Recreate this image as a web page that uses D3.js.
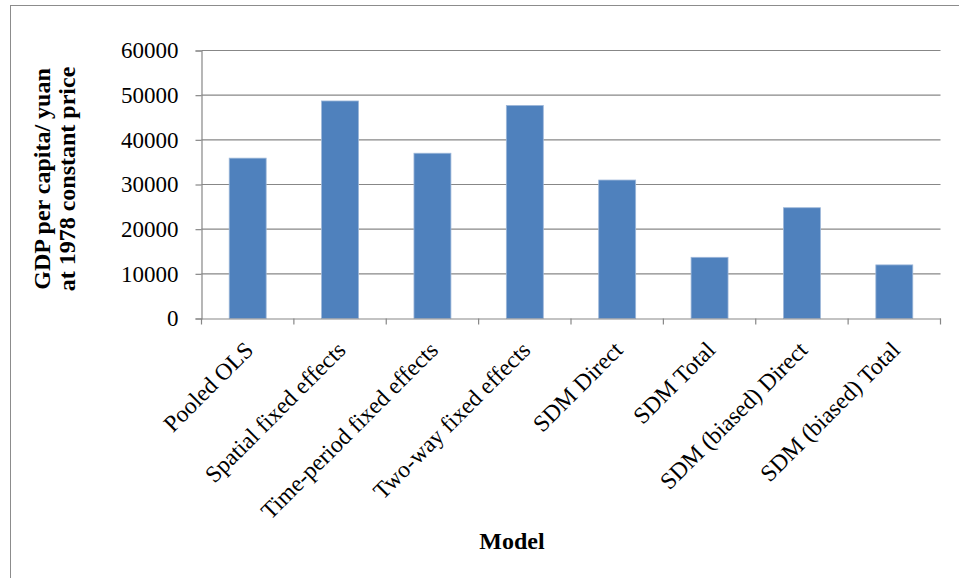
<!DOCTYPE html>
<html>
<head>
<meta charset="utf-8">
<script src="https://cdn.jsdelivr.net/npm/d3@7"></script>
<style>
  html, body { margin: 0; padding: 0; background: #fff; }
  svg { display: block; }
</style>
</head>
<body>
<svg id="chart" width="959" height="578"></svg>
<script>
const categories = ["Pooled OLS", "Spatial fixed effects", "Time-period fixed effects", "Two-way fixed effects", "SDM Direct", "SDM Total", "SDM (biased) Direct", "SDM (biased) Total"];
const values = [35900, 48700, 37000, 47700, 31000, 13700, 24800, 12000];
const yTicks = [0, 10000, 20000, 30000, 40000, 50000, 60000];
const yTitleLines = ["GDP per capita/ yuan", "at 1978 constant price"];
const xTitle = "Model";

(function () {
const svg = d3.select("#chart");
const font = "'Liberation Serif', 'Times New Roman', serif";
const gray = "#878787";

// outer chart border
svg.append("rect")
  .attr("x", 10.5).attr("y", 5.5)
  .attr("width", 980).attr("height", 620)
  .attr("fill", "none").attr("stroke", "#8c8c8c").attr("stroke-width", 1);

const pLeft = 201.5, pRight = 940.5, pTop = 50.5, pBottom = 318.5;

const x = d3.scaleBand().domain(categories).range([pLeft, pRight]).padding(0);
const y = d3.scaleLinear().domain([0, 60000]).range([pBottom, pTop]);

// gridlines
svg.append("g").selectAll("line").data(yTicks.filter(t => t > 0)).join("line")
  .attr("x1", pLeft).attr("x2", pRight)
  .attr("y1", d => y(d)).attr("y2", d => y(d))
  .attr("stroke", gray).attr("stroke-width", 1.2);

// bars
const step = x.step();
svg.append("g").selectAll("rect").data(categories).join("rect")
  .attr("x", (d) => x(d) + step * 0.3)
  .attr("width", step * 0.4)
  .attr("y", (d, i) => y(values[i]))
  .attr("height", (d, i) => y(0) - y(values[i]))
  .attr("fill", "#4F81BD")
  .attr("stroke", "#9db7d9").attr("stroke-width", 0.8);

// y axis
const yAxis = d3.axisLeft(y).tickValues(yTicks).tickSize(6).tickPadding(17).tickFormat(d3.format("d"));
const gy = svg.append("g").attr("transform", `translate(${pLeft},0)`).call(yAxis)
  .attr("font-family", font).attr("font-size", 23);
gy.select(".domain").attr("stroke", gray).attr("stroke-width", 1.2);
gy.selectAll(".tick line").attr("stroke", gray).attr("stroke-width", 1.2);
gy.selectAll(".tick text").attr("font-family", font).attr("font-size", 23).attr("fill", "#000");

// x axis: ticks at category boundaries
const xAxis = d3.axisBottom(x).tickSize(0).tickFormat("");
const gx = svg.append("g").attr("transform", `translate(0,${pBottom})`).call(xAxis);
gx.select(".domain").attr("stroke", gray).attr("stroke-width", 1.2);
const bounds = categories.map(c => x(c)).concat([pRight]);
svg.append("g").selectAll("line").data(bounds).join("line")
  .attr("x1", d => d).attr("x2", d => d)
  .attr("y1", pBottom).attr("y2", pBottom + 6)
  .attr("stroke", gray).attr("stroke-width", 1.2);

// rotated category labels
svg.append("g").selectAll("text").data(categories).join("text")
  .attr("transform", d => `translate(${x(d) + x.bandwidth() / 2 + 7},${pBottom + 33}) rotate(-45)`)
  .attr("text-anchor", "end")
  .attr("font-family", font).attr("font-size", 23.5).attr("fill", "#000")
  .text(d => d);

// y title
const yt = svg.append("text")
  .attr("transform", "translate(50,179) rotate(-90)")
  .attr("text-anchor", "middle")
  .attr("font-family", font).attr("font-size", 24).attr("font-weight", "bold").attr("fill", "#000");
yTitleLines.forEach((l, i) => {
  yt.append("tspan").attr("x", 0).attr("dy", i === 0 ? 0 : 25).text(l);
});

// x title
svg.append("text")
  .attr("x", 512).attr("y", 549)
  .attr("text-anchor", "middle")
  .attr("font-family", font).attr("font-size", 24).attr("font-weight", "bold").attr("fill", "#000")
  .text(xTitle);
})();
</script>
</body>
</html>
